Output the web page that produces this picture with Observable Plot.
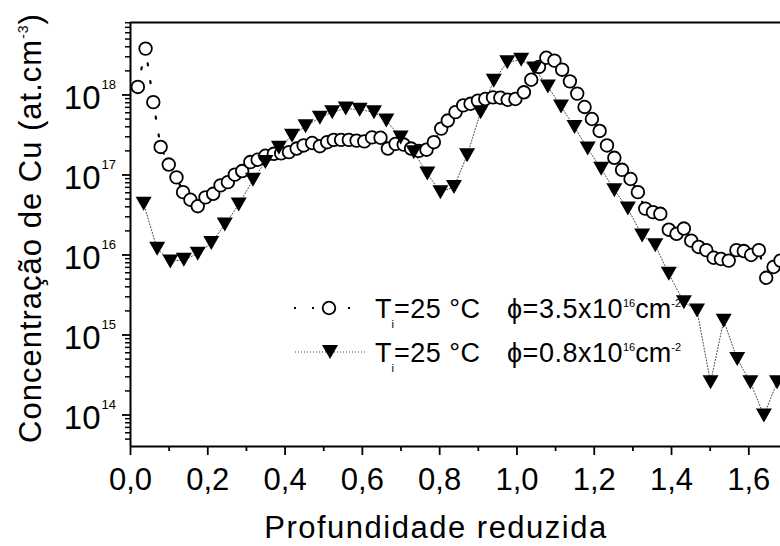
<!DOCTYPE html>
<html><head><meta charset="utf-8">
<script src="https://cdn.jsdelivr.net/npm/d3@7"></script>
<script src="https://cdn.jsdelivr.net/npm/@observablehq/plot@0.6"></script>
<style>body{margin:0;background:#fff} svg{display:block}</style>
</head><body><div id="chart"></div>
<script>
// Series A: open circles, phi = 3.5x10^16 cm^-2
const depthA = [0.019,0.039,0.059,0.078,0.099,0.119,0.136,0.155,0.174,0.194,0.214,0.233,0.252,0.270,0.289,0.310,0.329,0.349,0.371,0.390,0.410,0.430,0.448,0.470,0.490,0.509,0.526,0.545,0.565,0.585,0.605,0.625,0.647,0.666,0.686,0.707,0.726,0.746,0.766,0.785,0.804,0.821,0.841,0.861,0.880,0.899,0.918,0.938,0.957,0.976,0.996,1.018,1.037,1.057,1.076,1.097,1.117,1.137,1.156,1.175,1.194,1.214,1.233,1.252,1.272,1.294,1.313,1.332,1.352,1.371,1.393,1.413,1.432,1.451,1.470,1.490,1.509,1.528,1.548,1.568,1.587,1.606,1.626,1.645,1.664,1.682];
const concA = [1.26e18,3.80e18,8.13e17,2.24e17,1.35e17,9.33e16,6.10e16,4.90e16,4.07e16,5.25e16,5.82e16,7.41e16,8.13e16,1.01e17,1.12e17,1.45e17,1.55e17,1.74e17,1.84e17,1.86e17,1.93e17,2.14e17,2.34e17,2.51e17,2.29e17,2.57e17,2.75e17,2.75e17,2.75e17,2.69e17,2.63e17,2.95e17,2.92e17,2.14e17,2.45e17,2.40e17,2.14e17,2.00e17,2.07e17,2.57e17,3.80e17,4.79e17,6.10e17,7.41e17,7.76e17,8.51e17,8.91e17,9.33e17,9.23e17,8.71e17,8.91e17,1.08e18,1.55e18,2.24e18,2.92e18,2.69e18,2.07e18,1.48e18,1.04e18,7.08e17,5.01e17,3.55e17,2.34e17,1.64e17,1.16e17,8.91e16,6.10e16,3.80e16,3.43e16,3.27e16,2.07e16,1.84e16,2.14e16,1.51e16,1.26e16,1.15e16,9.23e15,8.91e15,8.51e15,1.15e16,1.12e16,1.00e16,1.15e16,5.19e15,7.08e15,8.51e15];
// Series B: filled down-triangles, phi = 0.8x10^16 cm^-2
const depthB = [0.034,0.069,0.103,0.138,0.174,0.209,0.244,0.280,0.317,0.349,0.384,0.418,0.453,0.490,0.522,0.557,0.593,0.630,0.662,0.699,0.733,0.768,0.802,0.837,0.871,0.906,0.940,0.975,1.011,1.045,1.080,1.114,1.149,1.183,1.218,1.252,1.287,1.324,1.358,1.393,1.432,1.466,1.501,1.535,1.570,1.604,1.639,1.673];
const concB = [4.37e16,1.20e16,8.32e15,8.71e15,1.04e16,1.41e16,2.40e16,4.27e16,8.71e16,1.45e17,2.19e17,3.09e17,4.07e17,5.19e17,6.10e17,6.76e17,6.53e17,6.10e17,4.79e17,2.95e17,1.93e17,1.04e17,6.10e16,7.08e16,1.76e17,6.10e17,1.51e18,2.57e18,2.75e18,2.14e18,1.28e18,7.18e17,3.98e17,2.14e17,1.20e17,6.46e16,3.80e16,1.75e16,1.32e16,5.82e15,2.57e15,2.02e15,2.57e14,1.51e15,5.01e14,2.57e14,9.86e13,2.57e14];

const xTickValues = [0,0.2,0.4,0.6,0.8,1.0,1.2,1.4,1.6];
const xTickLabels = ["0,0","0,2","0,4","0,6","0,8","1,0","1,2","1,4","1,6"];
const xMinorValues = [0.1,0.3,0.5,0.7,0.9,1.1,1.3,1.5];
const yTickValues = [1e14,1e15,1e16,1e17,1e18];
const yTickBase = "10";
const yTickExponents = ["14","15","16","17","18"];
const xDomain = [0, 1.682];
const yDomain = [4.04e13, 8.05e18];

const xTitle = "Profundidade reduzida";
const yTitle = "Concentração de Cu (at.cm";
const yTitleSup = "-3";
const legendTemp = ["25 °C","25 °C"];
const legendPhi = ["3.5","0.8"];

const dataA = depthA.map((x,i)=>({x, y: concA[i]}));
const dataB = depthB.map((x,i)=>({x, y: concB[i]}));

const yMinor = [];
for (let e = 13; e <= 18; e++) for (let m = 2; m <= 9; m++) { const v = m * Math.pow(10, e); if (v >= yDomain[0] && v <= yDomain[1]) yMinor.push(v); }

const triDown = { draw(ctx, size) { ctx.moveTo(-8,-7); ctx.lineTo(8,-7); ctx.lineTo(0,7); ctx.closePath(); } };

const FONT = "'Liberation Sans', Arial, Helvetica, sans-serif";

const svg = Plot.plot({
  width: 780, height: 546,
  marginLeft: 130, marginRight: 0, marginTop: 22, marginBottom: 100,
  style: {fontFamily: FONT, color: "black", background: "white"},
  x: {domain: xDomain},
  y: {type: "log", domain: yDomain},
  marks: [
    Plot.line(dataA, {x:"x", y:"y", stroke:"black", strokeWidth:2.2, strokeDasharray:"2,16"}),
    Plot.line(dataB, {x:"x", y:"y", stroke:"#444", strokeWidth:1, strokeDasharray:"1,2"}),
    Plot.dot(dataA, {x:"x", y:"y", r:6.3, fill:"white", stroke:"black", strokeWidth:1.8}),
    Plot.dot(dataB, {x:"x", y:"y", r:7, symbol: triDown, fill:"black", stroke:"none"}),
    Plot.axisX(xTickValues, {tickSize:9, tickPadding:12, strokeWidth:1.8, fontSize:31, label:null, tickFormat: d => xTickLabels[xTickValues.indexOf(d)]}),
    Plot.axisX(xMinorValues, {tickSize:5, strokeWidth:1.8, label:null, tickFormat: () => ""}),
    Plot.axisY(yTickValues, {tickSize:8, strokeWidth:1.8, label:null, tickFormat: () => ""}),
    Plot.axisY(yMinor, {tickSize:5, strokeWidth:1.5, label:null, tickFormat: () => ""}),
    Plot.text(yTickValues, {y: d=>d, frameAnchor:"left", text: () => yTickBase, textAnchor:"end", dx:-30, dy:3, fontSize:33, fill:"black"}),
    Plot.text(yTickValues, {y: d=>d, frameAnchor:"left", text: (d,i) => yTickExponents[i], textAnchor:"start", dx:-29, dy:-10, fontSize:13, fill:"black"}),
    Plot.ruleX([xDomain[0]], {strokeWidth:2}),
    Plot.ruleY([yDomain[0]], {strokeWidth:2}),
    Plot.ruleY([yDomain[1]], {strokeWidth:2})
  ]
});
document.getElementById("chart").appendChild(svg);

const S = d3.select(svg);
// axis titles
S.append("text").attr("x", 436).attr("y", 538).attr("text-anchor","middle")
  .attr("font-size", 31).attr("letter-spacing", "1.5px").attr("fill","black").text(xTitle);
const yt = S.append("text").attr("transform","translate(41,228) rotate(-90)").attr("text-anchor","middle")
  .attr("font-size", 31).attr("letter-spacing","1px").attr("fill","black");
yt.append("tspan").text(yTitle);
yt.append("tspan").attr("font-size",14).attr("dy",-13).text(yTitleSup);
yt.append("tspan").attr("dy",13).text(")");

// legend
const L = S.append("g").attr("font-size", 27).attr("fill","black").attr("text-anchor","start");
const rows = [308, 352];
L.append("line").attr("x1",294).attr("x2",364).attr("y1",rows[0]).attr("y2",rows[0])
  .attr("stroke","black").attr("stroke-width",2.2).attr("stroke-dasharray","2,16");
L.append("circle").attr("cx",329).attr("cy",rows[0]).attr("r",6.3).attr("fill","white").attr("stroke","black").attr("stroke-width",1.8);
L.append("line").attr("x1",295).attr("x2",366).attr("y1",rows[1]).attr("y2",rows[1])
  .attr("stroke","#444").attr("stroke-width",1).attr("stroke-dasharray","1,2");
L.append("path").attr("transform",`translate(330,${rows[1]})`).attr("d","M-8,-7L8,-7L0,7Z").attr("fill","black");
rows.forEach((cy,i) => {
  const t = L.append("text").attr("x",375).attr("y",cy+10).attr("text-anchor","start").attr("fill","black");
  t.append("tspan").attr("fill","black").text("T");
  t.append("tspan").attr("fill","black").attr("font-size",11).attr("dy",10).text("i");
  t.append("tspan").attr("fill","black").attr("dy",-10).attr("letter-spacing","0.5px").text("=" + legendTemp[i]);
  const p = L.append("text").attr("x",507).attr("y",cy+10).attr("text-anchor","start").attr("fill","black");
  p.append("tspan").attr("fill","black").attr("letter-spacing","0.5px").text("ϕ=" + legendPhi[i] + "x10");
  p.append("tspan").attr("fill","black").attr("font-size",11).attr("dy",-11).text("16");
  p.append("tspan").attr("fill","black").attr("dy",11).text("cm");
  p.append("tspan").attr("fill","black").attr("font-size",11).attr("dy",-11).text("-2");
});
</script></body></html>
